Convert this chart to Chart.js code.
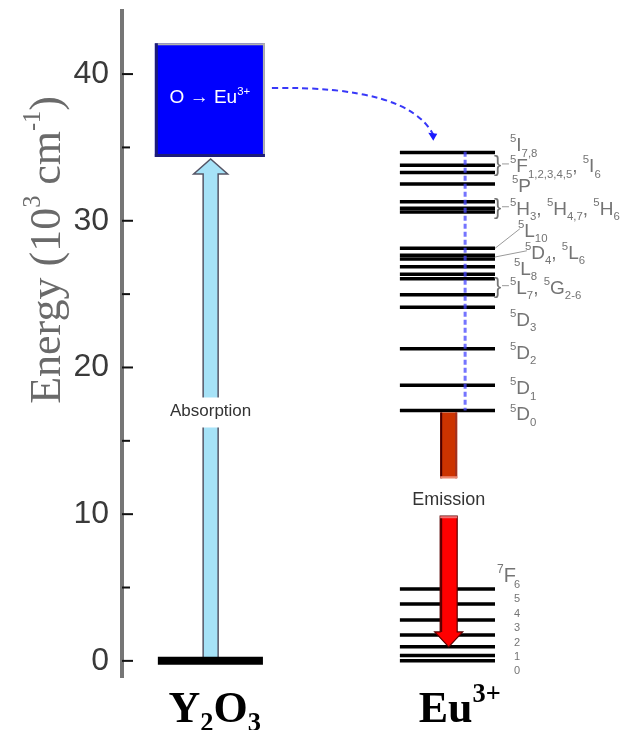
<!DOCTYPE html>
<html>
<head>
<meta charset="utf-8">
<script src="https://cdn.jsdelivr.net/npm/chart.js"></script>
<style>
html, body { margin: 0; padding: 0; background: #fff; }
#wrap { width: 620px; height: 730px; }
</style>
</head>
<body>
<div id="wrap"><canvas id="levels" width="620" height="730"></canvas></div>
<script>
// energies in 10^3 cm^-1
const columns = ['Y2O3', 'Eu3+'];
const yTicks = [0, 10, 20, 30, 40];
const yMinorTicks = [5, 15, 25, 35];
const hostLevels = [0];
const euExcitedLevels = [34.65, 33.78, 33.29, 32.5, 31.29, 30.85, 30.6, 28.12, 27.65, 27.4,
  26.87, 26.35, 26.05, 24.95, 24.11, 21.27, 18.78, 17.07];
const euGroundLevels = [4.9, 3.88, 2.79, 1.77, 0.97, 0.36, 0];
const chargeTransferBand = [34.35, 42.1];   // O -> Eu3+ box
const absorption = [0, 34.35];
const transfer = [39.05, 35.45];            // curved dashed arrow
const relaxation = [34.7, 17.07];           // vertical dashed line
const emissionUpper = [17.07, 12.45];
const emissionLower = [9.86, 0.95];

// x layout in arbitrary units (0..10)
const X = { host: [0.72, 2.83], hostMid: 1.78, eu: [5.58, 7.49], euMid: 6.56, relax: 6.89, label: 7.79 };

const LABEL_FONT = 'Liberation Sans, Arial, sans-serif';
const SERIF = 'Liberation Serif, Times New Roman, serif';

// level labels: baseline energy, parts [text, 0 normal | 1 sup | -1 sub]
const euLabels = [
  { e: 34.76, dx: 0, parts: [['5', 1], ['I', 0], ['7,8', -1]] },
  { e: 33.33, dx: 0, brace: true, parts: [['5', 1], ['F', 0], ['1,2,3,4,5', -1], [', ', 0], ['5', 1], ['I', 0], ['6', -1]] },
  { e: 31.97, dx: 0.04, parts: [['5', 1], ['P', 0]] },
  { e: 30.41, dx: 0, brace: true, parts: [['5', 1], ['H', 0], ['3', -1], [', ', 0], ['5', 1], ['H', 0], ['4,7', -1], [', ', 0], ['5', 1], ['H', 0], ['6', -1]] },
  { e: 28.91, dx: 0.16, lead: 28.12, parts: [['5', 1], ['L', 0], ['10', -1]] },
  { e: 27.41, dx: 0.3, lead: 27.53, parts: [['5', 1], ['D', 0], ['4', -1], [', ', 0], ['5', 1], ['L', 0], ['6', -1]] },
  { e: 26.33, dx: 0.08, parts: [['5', 1], ['L', 0], ['8', -1]] },
  { e: 25.03, dx: 0, brace: true, parts: [['5', 1], ['L', 0], ['7', -1], [', ', 0], ['5', 1], ['G', 0], ['2-6', -1]] },
  { e: 22.86, dx: 0, parts: [['5', 1], ['D', 0], ['3', -1]] },
  { e: 20.6, dx: 0, parts: [['5', 1], ['D', 0], ['2', -1]] },
  { e: 18.2, dx: 0, parts: [['5', 1], ['D', 0], ['1', -1]] },
  { e: 16.4, dx: 0, parts: [['5', 1], ['D', 0], ['0', -1]] },
];
const groundLabel = { e: 5.37, parts: [['7', 1], ['F', 0]] };
const groundJ = ['6', '5', '4', '3', '2', '1', '0'];


function levelPoints(levels, x0, x1) {
  const pts = [];
  levels.forEach(e => {
    pts.push({ x: x0, y: e }, { x: x1, y: e }, { x: x1, y: null });
  });
  return pts;
}

// draws mixed normal / super / subscript text, returns width
function rich(ctx, x, y, parts, size, opts) {
  const o = Object.assign({ family: LABEL_FONT, weight: '', small: 0.6, up: 0.42, down: 0.28, draw: true }, opts);
  let cx = x;
  parts.forEach(([t, k]) => {
    const fs = k ? size * o.small : size;
    ctx.font = `${o.weight} ${fs}px ${o.family}`;
    const dy = k === 1 ? -size * o.up : k === -1 ? size * o.down : 0;
    if (o.draw) ctx.fillText(t, cx, y + dy);
    cx += ctx.measureText(t).width;
  });
  return cx - x;
}

function richCentered(ctx, cx, y, parts, size, opts) {
  const w = rich(ctx, 0, 0, parts, size, Object.assign({}, opts, { draw: false }));
  rich(ctx, cx - w / 2, y, parts, size, opts);
}

function arrowUp(ctx, xc, yBottom, yTip, shaft, head, headLen) {
  ctx.beginPath();
  ctx.moveTo(xc - shaft / 2, yBottom);
  ctx.lineTo(xc - shaft / 2, yTip + headLen);
  ctx.lineTo(xc - head / 2, yTip + headLen);
  ctx.lineTo(xc, yTip);
  ctx.lineTo(xc + head / 2, yTip + headLen);
  ctx.lineTo(xc + shaft / 2, yTip + headLen);
  ctx.lineTo(xc + shaft / 2, yBottom);
  ctx.closePath();
}


const diagram = {
  id: 'diagram',

  beforeDatasetsDraw(chart) {
    const ctx = chart.ctx;
    const px = v => chart.scales.x.getPixelForValue(v);
    const py = v => chart.scales.y.getPixelForValue(v);

    // absorption arrow
    ctx.save();
    arrowUp(ctx, px(X.hostMid), py(absorption[0]), py(absorption[1]) + 2, 15, 34, 15);
    ctx.fillStyle = '#a6e2f7';
    ctx.fill();
    ctx.strokeStyle = '#556';
    ctx.lineWidth = 1.5;
    ctx.stroke();
    ctx.restore();
  },

  afterDatasetsDraw(chart) {
    const ctx = chart.ctx;
    const area = chart.chartArea;
    const px = v => chart.scales.x.getPixelForValue(v);
    const py = v => chart.scales.y.getPixelForValue(v);

    ctx.save();

    // ticks on inner side of the axis
    ctx.strokeStyle = '#111';
    ctx.lineWidth = 2;
    yTicks.forEach(v => {
      ctx.beginPath(); ctx.moveTo(area.left, py(v)); ctx.lineTo(area.left + 11, py(v)); ctx.stroke();
    });
    yMinorTicks.forEach(v => {
      ctx.beginPath(); ctx.moveTo(area.left, py(v)); ctx.lineTo(area.left + 8, py(v)); ctx.stroke();
    });

    // axis title
    ctx.save();
    ctx.translate(60, 250);
    ctx.rotate(-Math.PI / 2);
    ctx.fillStyle = '#6a6a6a';
    ctx.textBaseline = 'alphabetic';
    richCentered(ctx, 0, 0, [['Energy (10', 0], ['3', 1], [' cm', 0], ['-1', 1], [')', 0]], 44,
      { family: SERIF, small: 0.55, up: 0.45 });
    ctx.restore();

    // absorption label gap
    const absY = py(17.0);
    ctx.fillStyle = '#fff';
    ctx.fillRect(px(X.hostMid) - 20, absY - 14, 40, 30);
    ctx.fillStyle = '#333';
    ctx.font = `17px ${LABEL_FONT}`;
    ctx.textAlign = 'center';
    ctx.textBaseline = 'middle';
    ctx.fillText('Absorption', px(X.hostMid), absY);

    // charge transfer box
    const bx0 = px(0.66), bx1 = px(2.87);
    const by0 = py(chargeTransferBand[1]), by1 = py(chargeTransferBand[0]);
    ctx.fillStyle = '#0000fe';
    ctx.fillRect(bx0, by0, bx1 - bx0, by1 - by0);
    ctx.fillStyle = '#b4b4ac';
    ctx.fillRect(bx0, by0, bx1 - bx0, 2);
    ctx.fillRect(bx1 - 2, by0, 2, by1 - by0);
    ctx.fillStyle = '#1c1c78';
    ctx.fillRect(bx0, by0, 3, by1 - by0);
    ctx.fillRect(bx0, by1 - 3, bx1 - bx0, 3);
    ctx.fillStyle = '#fff';
    ctx.textAlign = 'left';
    ctx.textBaseline = 'alphabetic';
    richCentered(ctx, (bx0 + bx1) / 2, py(39.05) + 15, [['O \u2192 Eu', 0], ['3+', 1]], 19, { small: 0.6, up: 0.4 });

    // curved dashed transfer arrow
    const sx = px(3.01), sy = py(transfer[0]);
    const ex = px(6.25), ey = py(transfer[1]);
    ctx.strokeStyle = '#3838f8';
    ctx.lineWidth = 2;
    ctx.setLineDash([6, 4]);
    ctx.beginPath();
    ctx.moveTo(sx, sy);
    ctx.quadraticCurveTo(px(5.75), py(39.2), ex, ey - 6);
    ctx.stroke();
    ctx.setLineDash([]);
    ctx.fillStyle = '#1a1aff';
    ctx.beginPath();
    ctx.moveTo(ex - 5, ey - 8); ctx.lineTo(ex + 4, ey - 7); ctx.lineTo(ex, ey); ctx.closePath();
    ctx.fill();

    // relaxation dashed line
    ctx.strokeStyle = 'rgba(70,70,255,0.75)';
    ctx.lineWidth = 3;
    ctx.setLineDash([5, 3]);
    ctx.beginPath();
    ctx.moveTo(px(X.relax), py(relaxation[0]));
    ctx.lineTo(px(X.relax), py(relaxation[1]));
    ctx.stroke();
    ctx.setLineDash([]);

    // emission: upper orange part
    const ex0 = px(X.euMid) - 8.5, ex1 = px(X.euMid) + 8.5;
    let t = py(emissionUpper[0]) + 2, b = py(emissionUpper[1]);
    ctx.fillStyle = '#cc3300';
    ctx.fillRect(ex0, t, ex1 - ex0, b - t);
    ctx.fillStyle = '#4a0000';
    ctx.fillRect(ex0, t, 2, b - t);
    ctx.fillStyle = '#a03020';
    ctx.fillRect(ex1 - 2, t, 2, b - t);
    ctx.fillStyle = '#ee8870';
    ctx.fillRect(ex0, b - 2, ex1 - ex0, 2);

    // emission label
    ctx.fillStyle = '#333';
    ctx.font = `18px ${LABEL_FONT}`;
    ctx.textAlign = 'center';
    ctx.textBaseline = 'middle';
    ctx.fillText('Emission', px(X.euMid), py(10.95));

    // emission: lower red arrow
    t = py(emissionLower[0]);
    const tip = py(emissionLower[1]);
    const xc = px(X.euMid);
    ctx.beginPath();
    ctx.moveTo(ex0, t); ctx.lineTo(ex1, t);
    ctx.lineTo(ex1, tip - 15); ctx.lineTo(xc + 14, tip - 15);
    ctx.lineTo(xc, tip);
    ctx.lineTo(xc - 14, tip - 15); ctx.lineTo(ex0, tip - 15);
    ctx.closePath();
    ctx.fillStyle = '#ff0000';
    ctx.fill();
    ctx.strokeStyle = '#5a0000';
    ctx.lineWidth = 1.2;
    ctx.stroke();
    ctx.fillStyle = '#5a0000';
    ctx.fillRect(ex0, t, 2, tip - 15 - t);
    ctx.fillStyle = '#f07070';
    ctx.fillRect(ex0, t, ex1 - ex0, 2);

    // level labels
    ctx.fillStyle = '#747474';
    ctx.strokeStyle = '#9a9a9a';
    ctx.lineWidth = 1;
    ctx.textAlign = 'left';
    ctx.textBaseline = 'alphabetic';
    const lx = px(X.label);
    const unit = px(1) - px(0);
    euLabels.forEach(l => {
      const y = py(l.e);
      const x = lx + l.dx * unit;
      if (l.brace) {
        ctx.font = `22px ${LABEL_FONT}`;
        ctx.fillText('}', px(X.eu[1]) - 1, y - 1);
        ctx.beginPath(); ctx.moveTo(px(X.eu[1]) + 7, y - 8); ctx.lineTo(x - 1, y - 8); ctx.stroke();
      }
      if (l.lead !== undefined) {
        ctx.beginPath(); ctx.moveTo(px(X.eu[1]), py(l.lead)); ctx.lineTo(x + 2, y - 8); ctx.stroke();
      }
      rich(ctx, x, y, l.parts, 19, { small: 0.6, up: 0.45, down: 0.3 });
    });
    const gy = py(groundLabel.e);
    rich(ctx, px(X.eu[1]) + 2, gy, groundLabel.parts, 20, { small: 0.6, up: 0.45 });
    ctx.font = `11px ${LABEL_FONT}`;
    groundJ.forEach((d, i) => {
      ctx.fillText(d, px(X.eu[1]) + 19, gy + 6 + i * 14.4);
    });

    // column names
    ctx.fillStyle = '#000';
    ctx.textAlign = 'left';
    const baseY = 722;
    richCentered(ctx, px(X.hostMid) + 4, baseY, [['Y', 0], ['2', -1], ['O', 0], ['3', -1]], 44,
      { family: SERIF, weight: 'bold', small: 0.6, down: 0.2 });
    richCentered(ctx, px(X.euMid) + 11, baseY, [['Eu', 0], ['3+', 1]], 44,
      { family: SERIF, weight: 'bold', small: 0.6, up: 0.45 });

    ctx.restore();
  }
};


new Chart(document.getElementById('levels'), {
  type: 'line',
  data: {
    labels: columns,
    datasets: [
      {
        label: columns[0],
        data: levelPoints(hostLevels, X.host[0], X.host[1]),
        borderColor: '#000',
        borderWidth: 8,
        pointRadius: 0,
        spanGaps: false,
      },
      {
        label: columns[1] + ' excited',
        data: levelPoints(euExcitedLevels, X.eu[0], X.eu[1]),
        borderColor: '#000',
        borderWidth: 3.5,
        pointRadius: 0,
        spanGaps: false,
      },
      {
        label: columns[1] + ' 7F',
        data: levelPoints(euGroundLevels, X.eu[0], X.eu[1]),
        borderColor: '#000',
        borderWidth: 3.5,
        pointRadius: 0,
        spanGaps: false,
      },
    ]
  },
  options: {
    responsive: false,
    animation: false,
    devicePixelRatio: 1,
    layout: { padding: { top: 11, bottom: 53, left: 0, right: 0 } },
    plugins: { legend: { display: false }, tooltip: { enabled: false } },
    scales: {
      x: { type: 'linear', min: 0, max: 10, display: false },
      y: {
        type: 'linear',
        min: -1.1,
        max: 44.3,
        afterFit: s => { s.width = 122; s.paddingTop = 0; s.paddingBottom = 0; },
        afterBuildTicks: s => { s.ticks = yTicks.map(v => ({ value: v })); },
        grid: { drawOnChartArea: false, drawTicks: false },
        border: { color: '#767676', width: 4 },
        ticks: {
          padding: 13,
          color: '#3a3a3a',
          font: { family: 'Liberation Sans, Arial, sans-serif', size: 32 },
        },
      }
    }
  },
  plugins: [diagram]
});
</script>
</body>
</html>
